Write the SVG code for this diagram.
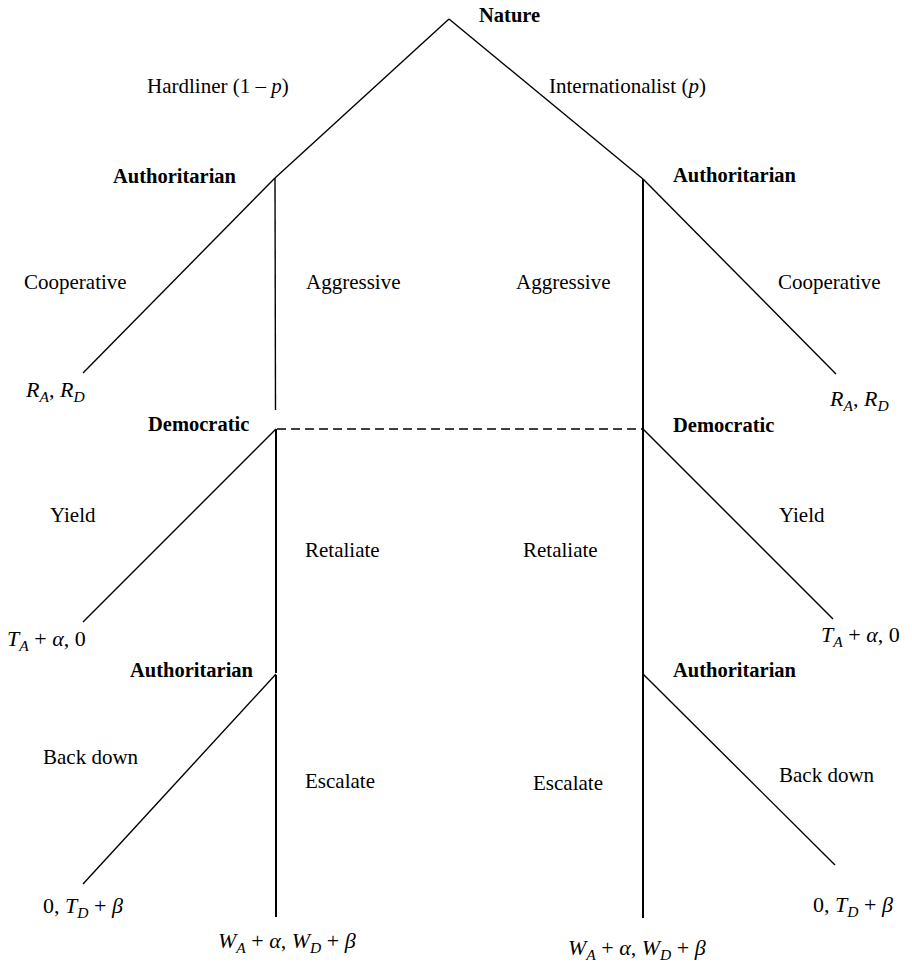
<svg xmlns="http://www.w3.org/2000/svg" width="912" height="965" viewBox="0 0 912 965">
<style>
.t{font-family:'Liberation Serif','Times New Roman',Tinos,'DejaVu Serif',serif;font-size:21px;fill:#000}
.b{font-family:'Liberation Serif','Times New Roman',Tinos,'DejaVu Serif',serif;font-size:20.5px;font-weight:bold;fill:#000}
.m{font-family:'Liberation Serif','Times New Roman',Tinos,'DejaVu Serif',serif;font-size:22px;fill:#000}
.i{font-style:italic}
.s{font-style:italic;font-size:15.5px}
.e{stroke:#000;fill:none;stroke-width:1.4}
.v{stroke:#000;fill:none;stroke-width:2}
.d{stroke:#000;fill:none;stroke-width:1.4;stroke-dasharray:9 5}
</style>
<rect width="912" height="965" fill="#fff"/>
<g id="connectors">
<line class="e" x1="449" y1="19" x2="275" y2="178"/>
<line class="e" x1="449" y1="19" x2="643" y2="179"/>
<line class="e" x1="275" y1="178" x2="83" y2="373"/>
<line class="e" x1="275" y1="178" x2="275.5" y2="410"/>
<line class="e" x1="643" y1="179" x2="836" y2="374"/>
<line class="v" x1="643" y1="179" x2="643" y2="918"/>
<line class="d" x1="277" y1="429" x2="643" y2="429"/>
<line class="v" x1="276" y1="429" x2="276" y2="673"/>
<line class="v" x1="276" y1="675" x2="276" y2="917"/>
<line class="e" x1="276" y1="429" x2="83" y2="622"/>
<line class="e" x1="643" y1="429" x2="833" y2="619"/>
<line class="e" x1="276" y1="674" x2="83" y2="884"/>
<line class="e" x1="643" y1="674" x2="835" y2="865"/>
</g>
<g id="nature"><text class="b" x="479" y="22">Nature</text></g>
<g id="edge-labels">
<text class="t" x="147" y="93">Hardliner (1 – <tspan class="i">p</tspan>)</text>
<text class="t" x="549" y="93">Internationalist (<tspan class="i">p</tspan>)</text>
<text class="t" x="24" y="289">Cooperative</text>
<text class="t" x="306" y="289">Aggressive</text>
<text class="t" x="516" y="289">Aggressive</text>
<text class="t" x="778" y="289">Cooperative</text>
<text class="t" x="50" y="522">Yield</text>
<text class="t" x="779" y="522">Yield</text>
<text class="t" x="305" y="557">Retaliate</text>
<text class="t" x="523" y="557">Retaliate</text>
<text class="t" x="43" y="764">Back down</text>
<text class="t" x="779" y="782">Back down</text>
<text class="t" x="305" y="788">Escalate</text>
<text class="t" x="533" y="790">Escalate</text>
</g>
<g id="auth-left"><text class="b" x="113" y="183">Authoritarian</text></g>
<g id="auth-right"><text class="b" x="673" y="182">Authoritarian</text></g>
<g id="dem-left"><text class="b" x="148" y="431">Democratic</text></g>
<g id="dem-right"><text class="b" x="673" y="432">Democratic</text></g>
<g id="auth2-left"><text class="b" x="130" y="677">Authoritarian</text></g>
<g id="auth2-right"><text class="b" x="673" y="677">Authoritarian</text></g>
<g id="payoffs">
<text class="m" x="26" y="397"><tspan class="i">R</tspan><tspan class="s" dy="5">A</tspan><tspan dy="-5">, </tspan><tspan class="i">R</tspan><tspan class="s" dy="5">D</tspan></text>
<text class="m" x="830" y="406"><tspan class="i">R</tspan><tspan class="s" dy="5">A</tspan><tspan dy="-5">, </tspan><tspan class="i">R</tspan><tspan class="s" dy="5">D</tspan></text>
<text class="m" x="7" y="646"><tspan class="i">T</tspan><tspan class="s" dy="5">A</tspan><tspan dy="-5"> + </tspan><tspan class="i">α</tspan><tspan>, 0</tspan></text>
<text class="m" x="821" y="642"><tspan class="i">T</tspan><tspan class="s" dy="5">A</tspan><tspan dy="-5"> + </tspan><tspan class="i">α</tspan><tspan>, 0</tspan></text>
<text class="m" x="43" y="913">0, <tspan class="i">T</tspan><tspan class="s" dy="5">D</tspan><tspan dy="-5"> + </tspan><tspan class="i">β</tspan></text>
<text class="m" x="813" y="912">0, <tspan class="i">T</tspan><tspan class="s" dy="5">D</tspan><tspan dy="-5"> + </tspan><tspan class="i">β</tspan></text>
<text class="m" x="218" y="948"><tspan class="i">W</tspan><tspan class="s" dy="5">A</tspan><tspan dy="-5"> + </tspan><tspan class="i">α</tspan><tspan>, </tspan><tspan class="i">W</tspan><tspan class="s" dy="5">D</tspan><tspan dy="-5"> + </tspan><tspan class="i">β</tspan></text>
<text class="m" x="568" y="955"><tspan class="i">W</tspan><tspan class="s" dy="5">A</tspan><tspan dy="-5"> + </tspan><tspan class="i">α</tspan><tspan>, </tspan><tspan class="i">W</tspan><tspan class="s" dy="5">D</tspan><tspan dy="-5"> + </tspan><tspan class="i">β</tspan></text>
</g>
</svg>
